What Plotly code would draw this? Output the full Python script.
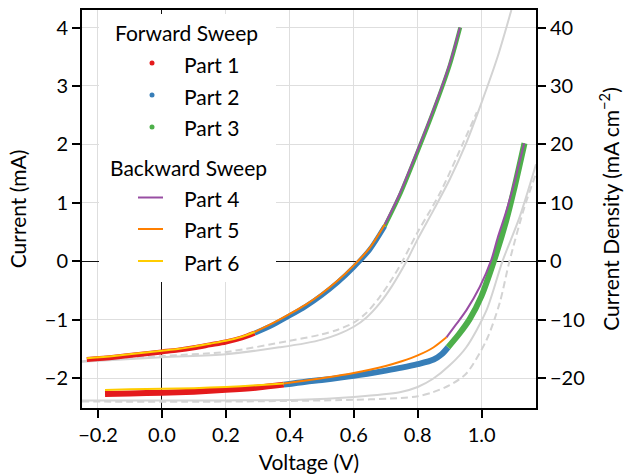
import plotly.graph_objects as go

# ---------------- data ----------------
# Cell A (Voc ~0.62 V)
a_p1_v = [-0.235, -0.15, -0.05, 0.0, 0.05, 0.1, 0.15, 0.2, 0.25, 0.29]
a_p1_i = [-1.68, -1.64, -1.58, -1.55, -1.52, -1.48, -1.43, -1.38, -1.31, -1.23]
a_p2_v = [0.29, 0.35, 0.4, 0.45, 0.5, 0.55, 0.6, 0.65, 0.697]
a_p2_i = [-1.23, -1.08, -0.93, -0.77, -0.58, -0.36, -0.10, 0.20, 0.60]
a_p3_v = [0.697, 0.744, 0.8, 0.85, 0.9, 0.933]
a_p3_i = [0.60, 1.13, 1.88, 2.58, 3.35, 4.00]
a_p4_v = [0.932, 0.9, 0.85, 0.8, 0.744, 0.697]
a_p4_i = [4.00, 3.38, 2.61, 1.91, 1.16, 0.63]
a_p5_v = [0.697, 0.65, 0.6, 0.55, 0.5, 0.45, 0.4, 0.35, 0.29]
a_p5_i = [0.63, 0.23, -0.07, -0.33, -0.55, -0.74, -0.90, -1.05, -1.21]
a_p6_v = [0.29, 0.25, 0.2, 0.15, 0.1, 0.05, 0.0, -0.05, -0.15, -0.235]
a_p6_i = [-1.21, -1.29, -1.36, -1.41, -1.46, -1.50, -1.53, -1.56, -1.62, -1.66]

# Cell B (Voc ~1.04 V)
b_p1_v = [-0.178, -0.1, 0.0, 0.1, 0.2, 0.3, 0.381]
b_p1_i = [-2.27, -2.26, -2.25, -2.23, -2.20, -2.16, -2.11]
b_p2_v = [0.381, 0.45, 0.5, 0.6, 0.7, 0.75, 0.8, 0.85, 0.875, 0.895]
b_p2_i = [-2.11, -2.06, -2.03, -1.96, -1.87, -1.82, -1.76, -1.68, -1.59, -1.47]
b_p3_v = [0.895, 0.93, 0.9625, 0.999, 1.038, 1.077, 1.1, 1.134]
b_p3_i = [-1.47, -1.24, -0.99, -0.60, 0.0, 0.70, 1.20, 2.02]
b_p4_v = [1.133, 1.1, 1.075, 1.05, 1.03, 0.994, 0.952, 0.92, 0.89]
b_p4_i = [2.02, 1.30, 0.82, 0.40, 0.02, -0.44, -0.84, -1.08, -1.30]
b_p5_v = [0.89, 0.85, 0.8, 0.75, 0.7, 0.6, 0.5, 0.45, 0.381]
b_p5_i = [-1.30, -1.47, -1.61, -1.71, -1.79, -1.91, -2.00, -2.04, -2.09]
b_p6_v = [0.381, 0.3, 0.2, 0.1, 0.0, -0.1, -0.178]
b_p6_i = [-2.09, -2.12, -2.15, -2.17, -2.18, -2.19, -2.20]

# Grey reference curves
ga_solid_v = [-0.25, 0.0, 0.2, 0.37, 0.45, 0.5, 0.55, 0.6, 0.64, 0.681, 0.72, 0.765, 0.8, 0.85, 0.9, 0.95, 1.0, 1.05, 1.093]
ga_solid_i = [-1.72, -1.64, -1.59, -1.47, -1.40, -1.34, -1.25, -1.12, -0.96, -0.72, -0.42, 0.0, 0.38, 0.88, 1.40, 2.00, 2.72, 3.50, 4.30]
ga_dash_v = [-0.25, 0.0, 0.2, 0.4, 0.5, 0.55, 0.6, 0.64, 0.68, 0.72, 0.752, 0.8, 0.869, 0.94, 0.985]
ga_dash_i = [-1.71, -1.62, -1.55, -1.36, -1.25, -1.17, -1.05, -0.88, -0.62, -0.30, 0.0, 0.50, 1.16, 2.00, 2.55]
gb_solid_v = [-0.25, 0.2, 0.431, 0.6, 0.744, 0.8, 0.848, 0.9, 0.952, 1.015, 1.065, 1.119, 1.17]
gb_solid_i = [-2.38, -2.38, -2.37, -2.32, -2.24, -2.15, -2.01, -1.78, -1.47, -0.84, 0.0, 0.76, 1.66]
gb_dash_v = [-0.25, 0.2, 0.6, 0.744, 0.8, 0.848, 0.9, 0.952, 1.015, 1.056, 1.087, 1.134, 1.17]
gb_dash_i = [-2.40, -2.40, -2.37, -2.34, -2.31, -2.24, -2.12, -1.92, -1.35, -0.72, 0.0, 0.93, 1.50]

x_ticks = [-0.2, 0.0, 0.2, 0.4, 0.6, 0.8, 1.0]
x_tick_labels = ["−0.2", "0.0", "0.2", "0.4", "0.6", "0.8", "1.0"]
y_ticks = [-2, -1, 0, 1, 2, 3, 4]
y2_ticks = [-20, -10, 0, 10, 20, 30, 40]

forward_names = ["Part 1", "Part 2", "Part 3"]
backward_names = ["Part 4", "Part 5", "Part 6"]

RED, BLUE, GREEN = "#e41a1c", "#377eb8", "#4daf4a"
PURPLE, ORANGE, YELLOW = "#984ea3", "#ff7f00", "#ffcc00"
GREY = "#d3d3d3"
FONT = "Lato"
TICK_SIZE = 20
TEXT_SIZE = 21

fig = go.Figure()

def add(v, i, color, width, dash="solid"):
    fig.add_trace(go.Scatter(x=v, y=i, mode="lines",
                             line=dict(color=color, width=width, dash=dash, shape="spline", smoothing=0.8),
                             showlegend=False, hoverinfo="skip"))

# grey references
add(ga_solid_v, ga_solid_i, GREY, 2)
add(ga_dash_v, ga_dash_i, GREY, 2, "7px,4px")
add(gb_solid_v, gb_solid_i, GREY, 2)
add(gb_dash_v, gb_dash_i, GREY, 2, "7px,4px")

# forward sweeps (dense dots)
add(a_p1_v, a_p1_i, RED, 5)
add(a_p2_v, a_p2_i, BLUE, 5)
add(a_p3_v, a_p3_i, GREEN, 4)
add(b_p1_v, b_p1_i, RED, 6)
add(b_p2_v, b_p2_i, BLUE, 6)
add(b_p3_v, b_p3_i, GREEN, 6)

# backward sweeps (lines)
add(a_p4_v, a_p4_i, PURPLE, 2)
add(a_p5_v, a_p5_i, ORANGE, 2)
add(a_p6_v, a_p6_i, YELLOW, 2)
add(b_p4_v, b_p4_i, PURPLE, 2)
add(b_p5_v, b_p5_i, ORANGE, 2)
add(b_p6_v, b_p6_i, YELLOW, 2)

# secondary axis carrier
fig.add_trace(go.Scatter(x=[None], y=[None], yaxis="y2", showlegend=False, hoverinfo="skip"))

# ---------------- layout ----------------
W, H = 625, 475
L, R, T, B = 82, 536, 10, 408

def px(xp):
    return (xp - L) / (R - L)

def py(yp):
    return (B - yp) / (B - T)

tickfont = dict(family=FONT, size=TICK_SIZE, color="black")
titlefont = dict(family=FONT, size=TEXT_SIZE, color="black")
fig.update_layout(
    width=W, height=H,
    margin=dict(l=L, r=W - R, t=T, b=H - B, autoexpand=False),
    paper_bgcolor="white", plot_bgcolor="white",
    font=dict(family=FONT, size=TEXT_SIZE, color="black"),
    xaxis=dict(range=[-0.25, 1.17], tickvals=x_ticks, ticktext=x_tick_labels, automargin=False,
               showgrid=True, gridcolor="#dedede", gridwidth=1,
               zeroline=True, zerolinecolor="#111111", zerolinewidth=1.2,
               showline=True, linecolor="black", linewidth=2, mirror=True,
               ticks="outside", ticklen=8, tickwidth=1.5, tickcolor="black",
               tickfont=tickfont, title=dict(text="Voltage (V)", font=titlefont, standoff=10)),
    yaxis=dict(range=[-2.51, 4.30], tickvals=y_ticks, automargin=False,
               showgrid=True, gridcolor="#dedede", gridwidth=1,
               zeroline=True, zerolinecolor="#111111", zerolinewidth=1.2,
               showline=True, linecolor="black", linewidth=2,
               ticks="outside", ticklen=8, tickwidth=1.5, tickcolor="black",
               tickfont=tickfont, title=dict(text="Current (mA)", font=titlefont, standoff=12)),
    yaxis2=dict(range=[-25.1, 43.0], tickvals=y2_ticks, overlaying="y", side="right", automargin=False,
                showgrid=False, zeroline=False,
                showline=True, linecolor="black", linewidth=2,
                ticks="outside", ticklen=8, tickwidth=1.5, tickcolor="black",
                tickfont=tickfont,
                title=dict(text="Current Density (mA cm<sup>−2</sup>)", font=titlefont, standoff=20)),
    showlegend=False,
)

# ---------------- manual legend ----------------
shapes = [dict(type="rect", xref="paper", yref="paper", x0=px(99), x1=px(276), y0=py(282), y1=py(14),
               fillcolor="white", line=dict(width=0), layer="above")]
anns = [dict(text="Forward Sweep", x=px(186), y=py(32), xanchor="center", yanchor="middle"),
        dict(text="Backward Sweep", x=px(188), y=py(167), xanchor="center", yanchor="middle")]
fwd_y = [63, 95, 127]
for name, col, yy in zip(forward_names, [RED, BLUE, GREEN], fwd_y):
    shapes.append(dict(type="circle", xref="paper", yref="paper", x0=px(149.5), x1=px(154.5),
                       y0=py(yy + 2.5), y1=py(yy - 2.5), fillcolor=col, line=dict(width=0), layer="above"))
    anns.append(dict(text=name, x=px(182), y=py(yy + 1), xanchor="left", yanchor="middle"))
bwd_y = [197.5, 229, 261]
for name, col, yy in zip(backward_names, [PURPLE, ORANGE, YELLOW], bwd_y):
    shapes.append(dict(type="line", xref="paper", yref="paper", x0=px(138), x1=px(163),
                       y0=py(yy), y1=py(yy), line=dict(color=col, width=2), layer="above"))
    anns.append(dict(text=name, x=px(182), y=py(yy + 1), xanchor="left", yanchor="middle"))
for a in anns:
    a.update(xref="paper", yref="paper", showarrow=False, font=dict(family=FONT, size=TEXT_SIZE, color="black"))

fig.update_layout(shapes=shapes, annotations=anns)
fig.write_html("out.html", config={"displayModeBar": False},
               post_script="document.body.style.margin='0px';")
